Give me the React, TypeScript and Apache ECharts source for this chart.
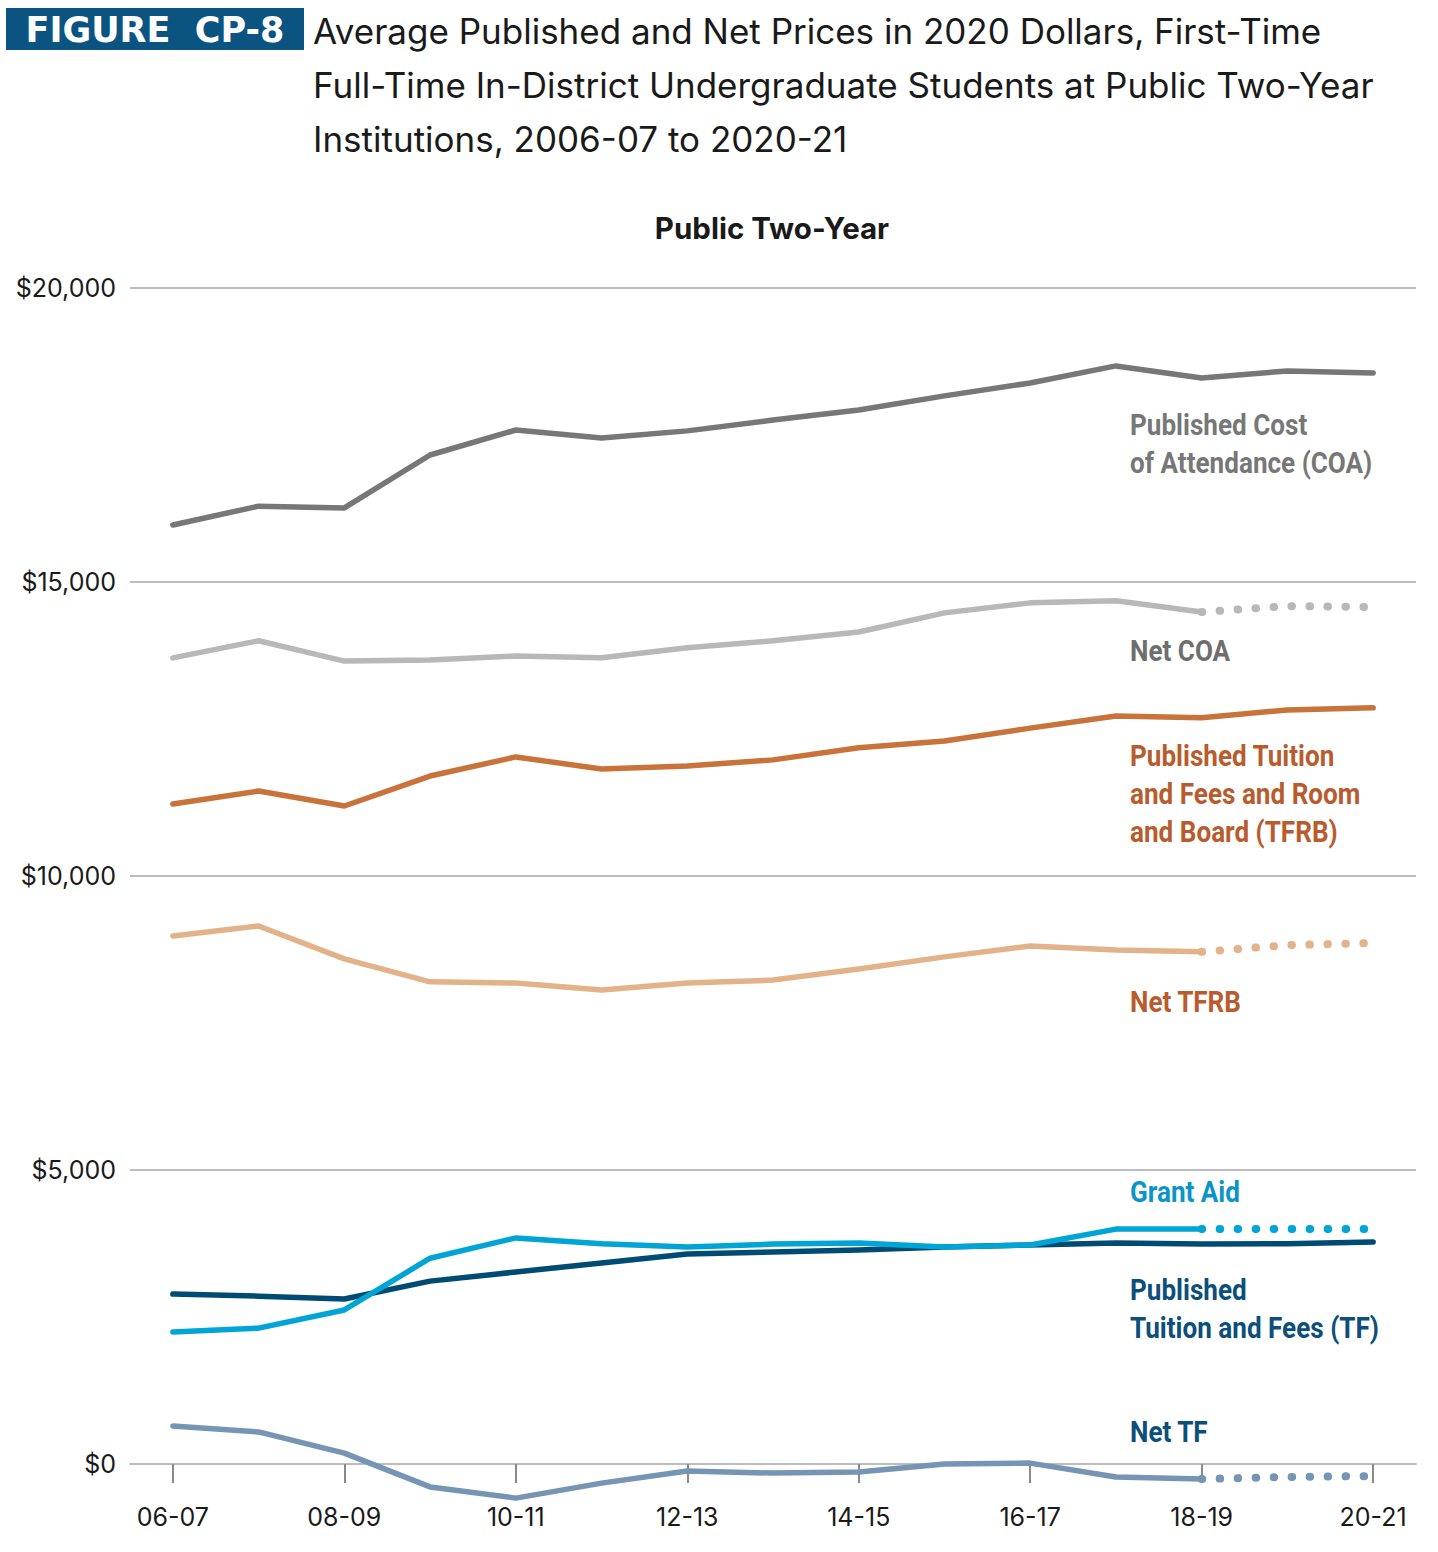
import React, { useRef, useEffect } from 'react';
import * as echarts from 'echarts';

const years = ['06-07', '07-08', '08-09', '09-10', '10-11', '11-12', '12-13', '13-14', '14-15', '15-16', '16-17', '17-18', '18-19', '19-20', '20-21'];

// 数值（2020 年美元）
const publishedCOA = [15970, 16290, 16260, 17160, 17585, 17450, 17570, 17755, 17925, 18165, 18385, 18675, 18470, 18590, 18555];
const netCOA = [13710, 14000, 13655, 13675, 13740, 13710, 13880, 14000, 14150, 14475, 14645, 14680, 14490, 14590, 14575];
const publishedTFRB = [11225, 11445, 11190, 11700, 12025, 11820, 11870, 11975, 12180, 12295, 12515, 12720, 12690, 12825, 12860];
const netTFRB = [8980, 9150, 8590, 8200, 8180, 8060, 8180, 8230, 8420, 8625, 8810, 8740, 8710, 8825, 8860];
const grantAid = [2245, 2310, 2620, 3500, 3845, 3745, 3690, 3740, 3760, 3690, 3725, 3995, 3995, 3995, 3995];
const publishedTF = [2890, 2855, 2805, 3110, 3265, 3420, 3570, 3605, 3640, 3690, 3725, 3760, 3740, 3745, 3775];
const netTF = [645, 545, 185, -390, -580, -325, -120, -155, -135, 0, 15, -220, -255, -220, -205];

const yTicks = [0, 5000, 10000, 15000, 20000];
const lastActual = 12; // 18-19 之后为估计值（点线）

const solidPart = (arr: number[]) => arr.map((v, i) => (i <= lastActual ? v : null));
const dottedPart = (arr: number[]) => arr.map((v, i) => (i >= lastActual ? v : null));

const lineSeries = (name: string, data: (number | null)[], color: string, dotted = false) => ({
  name,
  type: 'line',
  data,
  showSymbol: false,
  clip: false,
  connectNulls: false,
  silent: true,
  lineStyle: dotted
    ? { color, width: 8, type: [0.5, 17.5], cap: 'round' }
    : { color, width: 5.5, cap: 'round', join: 'round' },
});

// 右侧标注：窄体粗字（用 scaleX 压窄）
const sideLabel = (text: string, y: number, fill: string) => ({
  type: 'text',
  x: 1130,
  y,
  scaleX: 0.9,
  style: { text, x: 0, y: 0, fill, font: 'bold 29px Roboto, "Noto Sans", sans-serif', lineHeight: 38 },
});

const App: React.FC = () => {
  const chartRef = useRef<HTMLDivElement>(null);

  useEffect(() => {
    if (!chartRef.current) return;
    const chart = echarts.init(chartRef.current, null, { renderer: 'svg' });

    const option = {
      animation: false,
      backgroundColor: '#fff',
      textStyle: { fontFamily: 'Inter, "Noto Sans", sans-serif' },
      grid: { left: 130, right: 22, top: 288, bottom: 88 },
      xAxis: {
        type: 'category',
        data: years,
        boundaryGap: true,
        axisLine: { show: true, lineStyle: { color: '#bdbdbd', width: 2 } },
        axisTick: { show: true, alignWithLabel: true, interval: 1, length: 19, lineStyle: { color: '#8a8a8a', width: 2 } },
        axisLabel: { interval: 1, margin: 40, fontSize: 25, color: '#1a1a1a' },
        splitLine: { show: false },
      },
      yAxis: {
        type: 'value',
        min: yTicks[0],
        max: yTicks[yTicks.length - 1],
        interval: 5000,
        axisLine: { show: false },
        axisTick: { show: false },
        axisLabel: {
          margin: 14,
          fontSize: 25,
          color: '#1a1a1a',
          formatter: (v: number) => '$' + v.toLocaleString('en-US'),
        },
        splitLine: { lineStyle: { color: '#bdbdbd', width: 2 } },
      },
      series: [
        lineSeries('Published COA', publishedCOA, '#777777'),
        lineSeries('Net COA', solidPart(netCOA), '#b8b8b8'),
        lineSeries('Net COA est', dottedPart(netCOA), '#b8b8b8', true),
        lineSeries('Published TFRB', publishedTFRB, '#c8733a'),
        lineSeries('Net TFRB', solidPart(netTFRB), '#e2b38a'),
        lineSeries('Net TFRB est', dottedPart(netTFRB), '#e2b38a', true),
        lineSeries('Published TF', publishedTF, '#004b73'),
        lineSeries('Grant Aid', solidPart(grantAid), '#00a5d6'),
        lineSeries('Grant Aid est', dottedPart(grantAid), '#00a5d6', true),
        lineSeries('Net TF', solidPart(netTF), '#7694b3'),
        lineSeries('Net TF est', dottedPart(netTF), '#7694b3', true),
      ],
      graphic: [
        { type: 'rect', shape: { x: 6, y: 8, width: 298, height: 42 }, style: { fill: '#0b5482' } },
        {
          type: 'text',
          style: {
            text: 'FIGURE  CP-8', x: 155, y: 30, fill: '#fff',
            font: 'bold 35px "DejaVu Sans", sans-serif', textAlign: 'center', textVerticalAlign: 'middle',
          },
        },
        {
          type: 'text',
          style: {
            text: 'Average Published and Net Prices in 2020 Dollars, First-Time\nFull-Time In-District Undergraduate Students at Public Two-Year\nInstitutions, 2006-07 to 2020-21',
            x: 313, y: 4, fill: '#1a1a1a', font: '35px Inter, sans-serif', lineHeight: 54,
          },
        },
        {
          type: 'text',
          style: {
            text: 'Public Two-Year', x: 772, y: 228, fill: '#1a1a1a',
            font: 'bold 29.5px Inter, sans-serif', textAlign: 'center', textVerticalAlign: 'middle',
          },
        },
        sideLabel('Published Cost\nof Attendance (COA)', 406, '#777777'),
        sideLabel('Net COA', 632, '#6e6e6e'),
        sideLabel('Published Tuition\nand Fees and Room\nand Board (TFRB)', 737, '#b85c2e'),
        sideLabel('Net TFRB', 983, '#b85c2e'),
        sideLabel('Grant Aid', 1173, '#0a94c8'),
        sideLabel('Published\nTuition and Fees (TF)', 1271, '#0b4f7a'),
        sideLabel('Net TF', 1413, '#0b4f7a'),
      ],
    };

    chart.setOption(option);
    return () => {
      chart.dispose();
    };
  }, []);

  return <div ref={chartRef} style={{ position: 'absolute', left: 0, top: 0, width: 1438, height: 1552 }} />;
};

export default App;
